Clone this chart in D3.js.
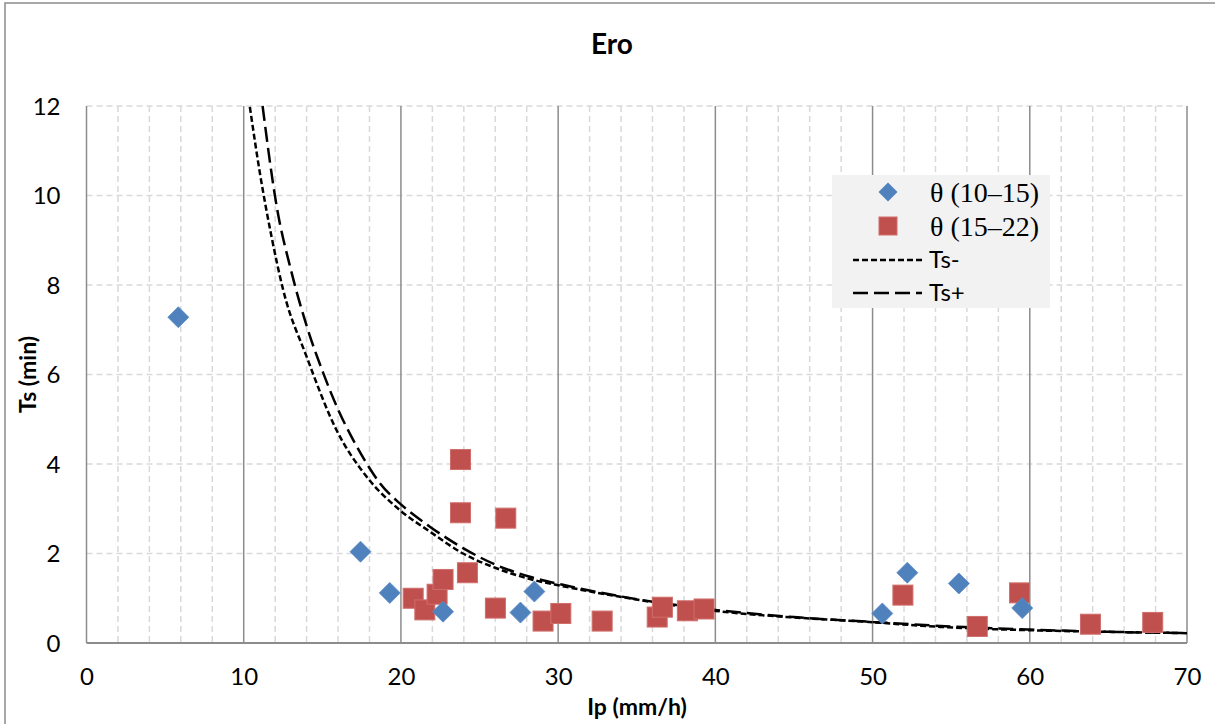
<!DOCTYPE html>
<html><head><meta charset="utf-8">
<script src="https://cdn.jsdelivr.net/npm/d3@7"></script>
<style>
html,body{margin:0;padding:0;background:#fff;}
svg{display:block;}
</style></head>
<body>
<svg id="chart" width="1215" height="724"></svg>
<script>
// ---- Data ----
const title = "Ero";
const xTitle = "Ip (mm/h)";
const yTitle = "Ts (min)";
const xTicks = [0, 10, 20, 30, 40, 50, 60, 70];
const yTicks = [0, 2, 4, 6, 8, 10, 12];

const seriesNames = ["θ (10–15)", "θ (15–22)", "Ts-", "Ts+"];

// θ (10–15) : blue diamonds
const blueIp = [5.84, 17.43, 19.29, 22.68, 27.6, 28.49, 50.62, 52.21, 55.49, 59.52];
const blueTs = [7.28, 2.04, 1.12, 0.70, 0.68, 1.15, 0.66, 1.57, 1.33, 0.78];

// θ (15–22) : red squares
const redIp = [23.79, 23.79, 26.67, 20.78, 21.52, 22.3, 22.68, 24.23, 26.01, 29.04, 30.17, 32.8, 36.3, 36.63, 38.22, 39.28, 51.93, 56.66, 59.35, 63.86, 67.82];
const redTs = [4.10, 2.91, 2.79, 1.00, 0.74, 1.09, 1.42, 1.57, 0.78, 0.49, 0.66, 0.49, 0.58, 0.80, 0.72, 0.76, 1.07, 0.37, 1.12, 0.42, 0.46];

// Ts- curve (short dashes)
const tsMinusIp = [10.39, 11.03, 11.77, 12.51, 14.0, 15.9, 17.81, 19.93, 21.84, 23.95, 26.08, 28.2, 30.3, 35.2, 40.06, 45, 48.9, 54.3, 60.6, 65, 70];
const tsMinusTs = [11.98, 10.5, 9.08, 7.89, 6.40, 4.76, 3.72, 2.97, 2.49, 2.0, 1.67, 1.43, 1.27, 0.96, 0.715, 0.57, 0.49, 0.36, 0.28, 0.25, 0.22];

// Ts+ curve (long dashes)
const tsPlusIp = [11.2, 12.1, 13, 14, 15.06, 16, 16.96, 18, 18.66, 19.93, 21.84, 23.95, 26.08, 28.2, 30.3, 35, 40, 45, 50, 55, 60, 65, 70];
const tsPlusTs = [12.0, 9.75, 8.34, 7.09, 6.03, 5.22, 4.54, 3.91, 3.57, 3.12, 2.60, 2.12, 1.74, 1.48, 1.30, 0.98, 0.74, 0.58, 0.47, 0.37, 0.30, 0.25, 0.22];

// ---- Drawing ----
const svg = d3.select("#chart");
const W = 1215, H = 724;
const L = 86.5, R = 1187, T = 106, B = 643;
const x = d3.scaleLinear().domain([0, 70]).range([L, R]);
const y = d3.scaleLinear().domain([0, 12]).range([B, T]);
const font = "Lato, 'Open Sans', 'Liberation Sans', sans-serif";

// chart area border
svg.append("rect").attr("x", 5).attr("y", 3).attr("width", W + 20).attr("height", H + 20)
  .attr("fill", "#fff").attr("stroke", "#8c8c8c").attr("stroke-width", 1.5);

svg.append("defs").append("clipPath").attr("id", "plotclip")
  .append("rect").attr("x", L).attr("y", T - 1).attr("width", R - L).attr("height", B - T + 1);

// grid: horizontal dashed
const grid = svg.append("g");
d3.range(0, 12.01, 2).forEach(v => {
  if (v === 0) return;
  grid.append("line").attr("x1", L).attr("x2", R).attr("y1", y(v)).attr("y2", y(v))
    .attr("stroke", "#d9d9d9").attr("stroke-width", 1.5).attr("stroke-dasharray", "6,4");
});
// vertical minor dashed
d3.range(0, 70.01, 2).forEach(v => {
  if (v % 10 === 0) return;
  grid.append("line").attr("x1", x(v)).attr("x2", x(v)).attr("y1", T).attr("y2", B)
    .attr("stroke", "#d9d9d9").attr("stroke-width", 1.5).attr("stroke-dasharray", "6,4");
});
// vertical major solid
xTicks.forEach(v => {
  grid.append("line").attr("x1", x(v)).attr("x2", x(v)).attr("y1", T).attr("y2", B)
    .attr("stroke", "#8c8c8c").attr("stroke-width", 1.5);
});
// bottom axis line
svg.append("line").attr("x1", L).attr("x2", R).attr("y1", B).attr("y2", B)
  .attr("stroke", "#8c8c8c").attr("stroke-width", 1.8);

// axes labels via d3 axes (no tick marks)
const xAxis = svg.append("g").attr("transform", `translate(0,${B})`)
  .call(d3.axisBottom(x).tickValues(xTicks).tickSize(0).tickPadding(0).tickFormat(d3.format("d")));
xAxis.select(".domain").remove();
xAxis.selectAll("text").attr("dy", null).attr("y", 42).attr("font-family", font).attr("font-size", 24).attr("fill", "#000");

const yAxis = svg.append("g").attr("transform", `translate(${L},0)`)
  .call(d3.axisLeft(y).tickValues(yTicks).tickSize(0).tickPadding(0).tickFormat(d3.format("d")));
yAxis.select(".domain").remove();
yAxis.selectAll("text").attr("x", -26).attr("dy", "0.35em").attr("font-family", font).attr("font-size", 24).attr("fill", "#000");

// titles
svg.append("text").attr("x", 612).attr("y", 54).attr("text-anchor", "middle")
  .attr("font-family", font).attr("font-weight", "bold").attr("font-size", 28).text(title);
svg.append("text").attr("x", 637).attr("y", 715).attr("text-anchor", "middle")
  .attr("font-family", font).attr("font-weight", "bold").attr("font-size", 23).text(xTitle);
svg.append("text").attr("transform", `translate(36,${(T + B) / 2}) rotate(-90)`).attr("text-anchor", "middle")
  .attr("font-family", font).attr("font-weight", "bold").attr("font-size", 23).text(yTitle);

// curves
const line = d3.line().x(d => x(d[0])).y(d => y(d[1])).curve(d3.curveMonotoneX);
const plot = svg.append("g").attr("clip-path", "url(#plotclip)");
plot.append("path").datum(d3.zip(tsMinusIp, tsMinusTs)).attr("d", line)
  .attr("fill", "none").attr("stroke", "#000").attr("stroke-width", 2.5).attr("stroke-dasharray", "6,3");
plot.append("path").datum(d3.zip(tsPlusIp, tsPlusTs)).attr("d", line)
  .attr("fill", "none").attr("stroke", "#000").attr("stroke-width", 2.5).attr("stroke-dasharray", "15,6");

// markers
const blue = "#4f81bd", red = "#c0504d";
const diamond = s => `M0,${-s}L${s},0L0,${s}L${-s},0Z`;
svg.append("g").selectAll("rect").data(d3.zip(redIp, redTs)).join("rect")
  .attr("x", d => x(d[0]) - 10).attr("y", d => y(d[1]) - 10).attr("width", 20).attr("height", 20)
  .attr("fill", red).attr("stroke", "#cf6e6b").attr("stroke-width", 1);
svg.append("g").selectAll("path").data(d3.zip(blueIp, blueTs)).join("path")
  .attr("transform", d => `translate(${x(d[0])},${y(d[1])})`).attr("d", diamond(10.5))
  .attr("fill", blue).attr("stroke", "#5a8ac4").attr("stroke-width", 0.8);

// legend
const lg = svg.append("g");
lg.append("rect").attr("x", 832).attr("y", 175).attr("width", 218).attr("height", 133).attr("fill", "#f2f2f2");
const rows = [192, 226, 260, 293];
lg.append("path").attr("transform", `translate(888,${rows[0]})`).attr("d", diamond(9.5)).attr("fill", blue);
lg.append("rect").attr("x", 879).attr("y", rows[1] - 9).attr("width", 18).attr("height", 18).attr("fill", red).attr("stroke", "#cf6e6b");
lg.append("line").attr("x1", 853).attr("x2", 922).attr("y1", rows[2]).attr("y2", rows[2])
  .attr("stroke", "#000").attr("stroke-width", 2.5).attr("stroke-dasharray", "6,3");
lg.append("line").attr("x1", 853).attr("x2", 922).attr("y1", rows[3]).attr("y2", rows[3])
  .attr("stroke", "#000").attr("stroke-width", 2.5).attr("stroke-dasharray", "15,6");
[0, 1].forEach(i => lg.append("text").attr("x", 930).attr("y", rows[i]).attr("dy", "0.35em")
  .attr("font-family", "'Liberation Serif', 'Times New Roman', serif").attr("font-size", 28).text(seriesNames[i]));
[2, 3].forEach(i => lg.append("text").attr("x", 929).attr("y", rows[i]).attr("dy", "0.35em")
  .attr("font-family", font).attr("font-size", 24).text(seriesNames[i]));
</script>
</body></html>
